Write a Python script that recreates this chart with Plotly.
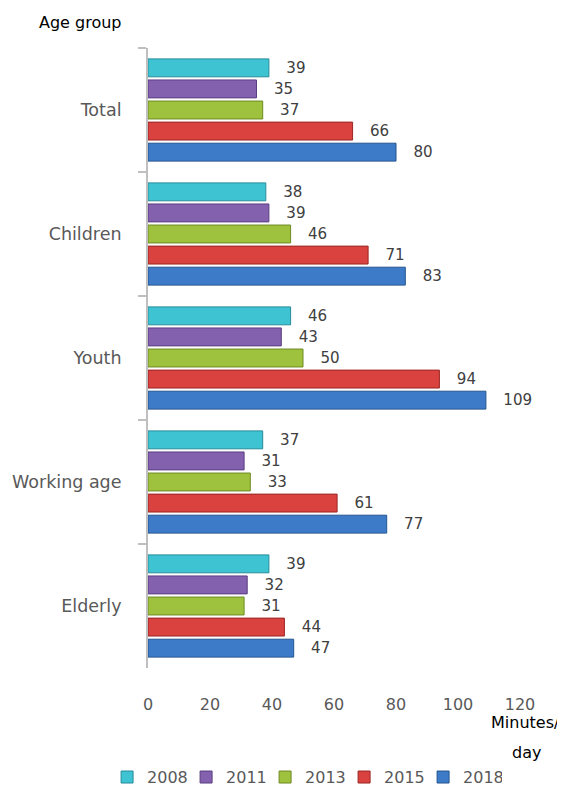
import plotly.graph_objects as go

categories = ["Total", "Children", "Youth", "Working age", "Elderly"]
years = ["2008", "2011", "2013", "2015", "2018"]
v2008 = [39, 38, 46, 37, 39]
v2011 = [35, 39, 43, 31, 32]
v2013 = [37, 46, 50, 33, 31]
v2015 = [66, 71, 94, 61, 44]
v2018 = [80, 83, 109, 77, 47]
series = [v2008, v2011, v2013, v2015, v2018]
x_ticks = [0, 20, 40, 60, 80, 100, 120]

colors = ["#3EC3D3", "#8361AE", "#9EC23E", "#D9423F", "#3D7BC8"]
edges = ["#268C9A", "#5A3F80", "#6E8A22", "#9A2624", "#24558F"]

FONT = "DejaVu Sans"
W, H = 557, 779  # page body adds an 8px margin
fig = go.Figure()
for name, vals, c, e in zip(years, series, colors, edges):
    fig.add_trace(go.Bar(
        y=categories, x=vals, name=name, orientation="h",
        marker=dict(color=c, line=dict(color=e, width=1)),
        text=vals, texttemplate="   %{x}", textposition="outside",
        textfont=dict(family=FONT, size=16, color="#404040"),
        cliponaxis=False,
    ))

fig.update_layout(
    width=W, height=H,
    margin=dict(l=140, r=45, t=40, b=119, autoexpand=False),
    barmode="group", bargap=0.15, bargroupgap=0.15,
    plot_bgcolor="white", paper_bgcolor="white",
    font=dict(family=FONT, color="#595959"),
    showlegend=True,
    legend=dict(orientation="h", xref="paper", yref="paper",
                x=-0.110, xanchor="left", y=-0.176, yanchor="middle",
                entrywidth=34, entrywidthmode="pixels",
                font=dict(family=FONT, size=16, color="#595959"),
                traceorder="normal", itemclick=False),
)
fig.update_xaxes(range=[0, 120], tickvals=x_ticks, showgrid=False, zeroline=False,
                 showline=False, ticks="", ticklabelstandoff=25, automargin=False,
                 tickfont=dict(family=FONT, size=16, color="#595959"))
fig.update_yaxes(autorange="reversed", showgrid=False, showline=True, automargin=False,
                 linecolor="#BFBFBF", linewidth=2, ticks="outside", tickson="boundaries",
                 ticklen=8, tickcolor="#BFBFBF", tickwidth=2, ticklabelstandoff=21,
                 tickfont=dict(family=FONT, size=17.5, color="#595959"))

fig.add_annotation(text="Age group", xref="paper", yref="paper", x=0, y=1,
                   xshift=-111, yshift=26, xanchor="left", yanchor="middle",
                   showarrow=False, font=dict(family=FONT, size=16, color="black"))
fig.add_annotation(text="Minutes/", xref="paper", yref="paper", x=1, y=0,
                   xshift=42, yshift=-54, xanchor="right", yanchor="middle",
                   showarrow=False, font=dict(family=FONT, size=16, color="black"))
fig.add_annotation(text="day", xref="paper", yref="paper", x=1, y=0,
                   xshift=23, yshift=-84, xanchor="right", yanchor="middle",
                   showarrow=False, font=dict(family=FONT, size=16, color="black"))

fig.write_html("out.html")
